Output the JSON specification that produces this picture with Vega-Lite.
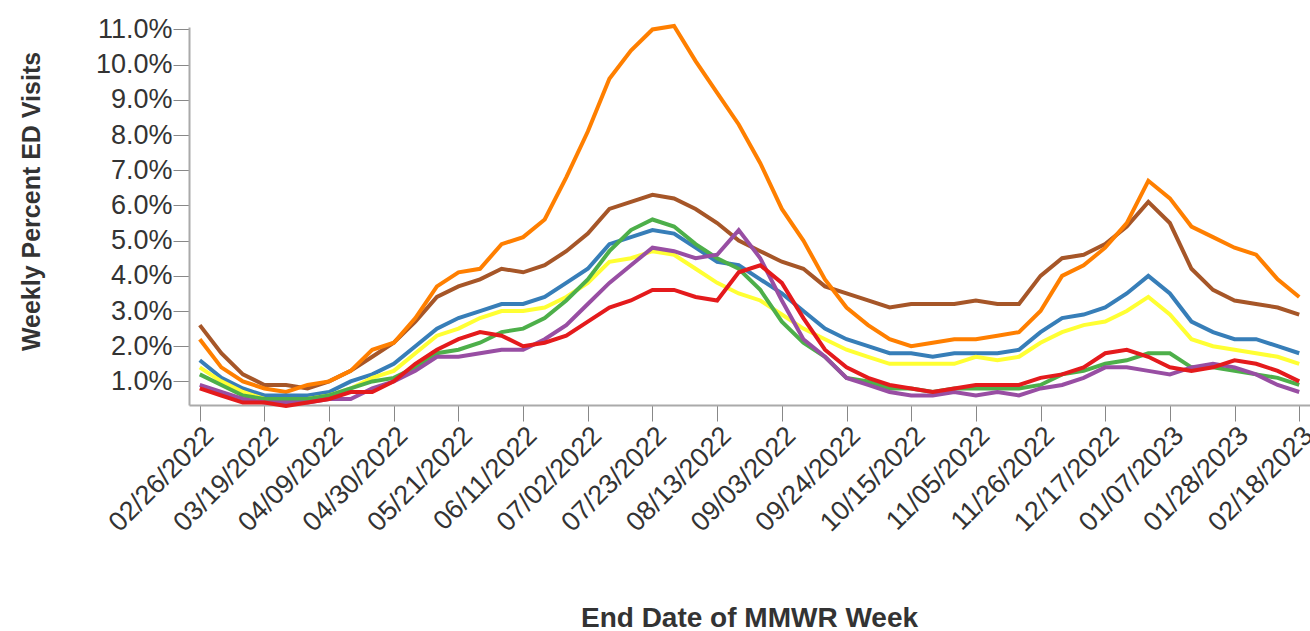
{
  "$schema": "https://vega.github.io/schema/vega-lite/v6.json",
  "autosize": {"type": "none"},
  "padding": {"left": 189, "top": 27, "right": 0, "bottom": 226},
  "width": 1121,
  "height": 378,
  "background": "white",
  "config": {"view": {"stroke": null}, "font": "Liberation Sans"},
  "data": {
    "values": [
      {"date": "2022-02-26", "brown": 2.6, "orange": 2.2, "blue": 1.6, "yellow": 1.4, "green": 1.2, "purple": 0.9, "red": 0.8},
      {"date": "2022-03-05", "brown": 1.8, "orange": 1.4, "blue": 1.1, "yellow": 1.0, "green": 0.9, "purple": 0.7, "red": 0.6},
      {"date": "2022-03-12", "brown": 1.2, "orange": 1.0, "blue": 0.8, "yellow": 0.7, "green": 0.6, "purple": 0.5, "red": 0.4},
      {"date": "2022-03-19", "brown": 0.9, "orange": 0.8, "blue": 0.6, "yellow": 0.5, "green": 0.5, "purple": 0.4, "red": 0.4},
      {"date": "2022-03-26", "brown": 0.9, "orange": 0.7, "blue": 0.6, "yellow": 0.5, "green": 0.5, "purple": 0.4, "red": 0.3},
      {"date": "2022-04-02", "brown": 0.8, "orange": 0.9, "blue": 0.6, "yellow": 0.5, "green": 0.5, "purple": 0.4, "red": 0.4},
      {"date": "2022-04-09", "brown": 1.0, "orange": 1.0, "blue": 0.7, "yellow": 0.6, "green": 0.6, "purple": 0.5, "red": 0.5},
      {"date": "2022-04-16", "brown": 1.3, "orange": 1.3, "blue": 1.0, "yellow": 0.8, "green": 0.8, "purple": 0.5, "red": 0.7},
      {"date": "2022-04-23", "brown": 1.7, "orange": 1.9, "blue": 1.2, "yellow": 1.1, "green": 1.0, "purple": 0.8, "red": 0.7},
      {"date": "2022-04-30", "brown": 2.1, "orange": 2.1, "blue": 1.5, "yellow": 1.3, "green": 1.1, "purple": 1.0, "red": 1.0},
      {"date": "2022-05-07", "brown": 2.7, "orange": 2.8, "blue": 2.0, "yellow": 1.8, "green": 1.4, "purple": 1.3, "red": 1.5},
      {"date": "2022-05-14", "brown": 3.4, "orange": 3.7, "blue": 2.5, "yellow": 2.3, "green": 1.8, "purple": 1.7, "red": 1.9},
      {"date": "2022-05-21", "brown": 3.7, "orange": 4.1, "blue": 2.8, "yellow": 2.5, "green": 1.9, "purple": 1.7, "red": 2.2},
      {"date": "2022-05-28", "brown": 3.9, "orange": 4.2, "blue": 3.0, "yellow": 2.8, "green": 2.1, "purple": 1.8, "red": 2.4},
      {"date": "2022-06-04", "brown": 4.2, "orange": 4.9, "blue": 3.2, "yellow": 3.0, "green": 2.4, "purple": 1.9, "red": 2.3},
      {"date": "2022-06-11", "brown": 4.1, "orange": 5.1, "blue": 3.2, "yellow": 3.0, "green": 2.5, "purple": 1.9, "red": 2.0},
      {"date": "2022-06-18", "brown": 4.3, "orange": 5.6, "blue": 3.4, "yellow": 3.1, "green": 2.8, "purple": 2.2, "red": 2.1},
      {"date": "2022-06-25", "brown": 4.7, "orange": 6.8, "blue": 3.8, "yellow": 3.4, "green": 3.3, "purple": 2.6, "red": 2.3},
      {"date": "2022-07-02", "brown": 5.2, "orange": 8.1, "blue": 4.2, "yellow": 3.8, "green": 3.9, "purple": 3.2, "red": 2.7},
      {"date": "2022-07-09", "brown": 5.9, "orange": 9.6, "blue": 4.9, "yellow": 4.4, "green": 4.7, "purple": 3.8, "red": 3.1},
      {"date": "2022-07-16", "brown": 6.1, "orange": 10.4, "blue": 5.1, "yellow": 4.5, "green": 5.3, "purple": 4.3, "red": 3.3},
      {"date": "2022-07-23", "brown": 6.3, "orange": 11.0, "blue": 5.3, "yellow": 4.7, "green": 5.6, "purple": 4.8, "red": 3.6},
      {"date": "2022-07-30", "brown": 6.2, "orange": 11.1, "blue": 5.2, "yellow": 4.6, "green": 5.4, "purple": 4.7, "red": 3.6},
      {"date": "2022-08-06", "brown": 5.9, "orange": 10.1, "blue": 4.8, "yellow": 4.2, "green": 4.9, "purple": 4.5, "red": 3.4},
      {"date": "2022-08-13", "brown": 5.5, "orange": 9.2, "blue": 4.4, "yellow": 3.8, "green": 4.5, "purple": 4.6, "red": 3.3},
      {"date": "2022-08-20", "brown": 5.0, "orange": 8.3, "blue": 4.3, "yellow": 3.5, "green": 4.2, "purple": 5.3, "red": 4.1},
      {"date": "2022-08-27", "brown": 4.7, "orange": 7.2, "blue": 3.9, "yellow": 3.3, "green": 3.6, "purple": 4.5, "red": 4.3},
      {"date": "2022-09-03", "brown": 4.4, "orange": 5.9, "blue": 3.5, "yellow": 2.9, "green": 2.7, "purple": 3.3, "red": 3.8},
      {"date": "2022-09-10", "brown": 4.2, "orange": 5.0, "blue": 3.0, "yellow": 2.5, "green": 2.1, "purple": 2.2, "red": 2.8},
      {"date": "2022-09-17", "brown": 3.7, "orange": 3.9, "blue": 2.5, "yellow": 2.2, "green": 1.7, "purple": 1.7, "red": 1.9},
      {"date": "2022-09-24", "brown": 3.5, "orange": 3.1, "blue": 2.2, "yellow": 1.9, "green": 1.1, "purple": 1.1, "red": 1.4},
      {"date": "2022-10-01", "brown": 3.3, "orange": 2.6, "blue": 2.0, "yellow": 1.7, "green": 1.0, "purple": 0.9, "red": 1.1},
      {"date": "2022-10-08", "brown": 3.1, "orange": 2.2, "blue": 1.8, "yellow": 1.5, "green": 0.8, "purple": 0.7, "red": 0.9},
      {"date": "2022-10-15", "brown": 3.2, "orange": 2.0, "blue": 1.8, "yellow": 1.5, "green": 0.8, "purple": 0.6, "red": 0.8},
      {"date": "2022-10-22", "brown": 3.2, "orange": 2.1, "blue": 1.7, "yellow": 1.5, "green": 0.7, "purple": 0.6, "red": 0.7},
      {"date": "2022-10-29", "brown": 3.2, "orange": 2.2, "blue": 1.8, "yellow": 1.5, "green": 0.8, "purple": 0.7, "red": 0.8},
      {"date": "2022-11-05", "brown": 3.3, "orange": 2.2, "blue": 1.8, "yellow": 1.7, "green": 0.8, "purple": 0.6, "red": 0.9},
      {"date": "2022-11-12", "brown": 3.2, "orange": 2.3, "blue": 1.8, "yellow": 1.6, "green": 0.8, "purple": 0.7, "red": 0.9},
      {"date": "2022-11-19", "brown": 3.2, "orange": 2.4, "blue": 1.9, "yellow": 1.7, "green": 0.8, "purple": 0.6, "red": 0.9},
      {"date": "2022-11-26", "brown": 4.0, "orange": 3.0, "blue": 2.4, "yellow": 2.1, "green": 0.9, "purple": 0.8, "red": 1.1},
      {"date": "2022-12-03", "brown": 4.5, "orange": 4.0, "blue": 2.8, "yellow": 2.4, "green": 1.2, "purple": 0.9, "red": 1.2},
      {"date": "2022-12-10", "brown": 4.6, "orange": 4.3, "blue": 2.9, "yellow": 2.6, "green": 1.3, "purple": 1.1, "red": 1.4},
      {"date": "2022-12-17", "brown": 4.9, "orange": 4.8, "blue": 3.1, "yellow": 2.7, "green": 1.5, "purple": 1.4, "red": 1.8},
      {"date": "2022-12-24", "brown": 5.4, "orange": 5.5, "blue": 3.5, "yellow": 3.0, "green": 1.6, "purple": 1.4, "red": 1.9},
      {"date": "2022-12-31", "brown": 6.1, "orange": 6.7, "blue": 4.0, "yellow": 3.4, "green": 1.8, "purple": 1.3, "red": 1.7},
      {"date": "2023-01-07", "brown": 5.5, "orange": 6.2, "blue": 3.5, "yellow": 2.9, "green": 1.8, "purple": 1.2, "red": 1.4},
      {"date": "2023-01-14", "brown": 4.2, "orange": 5.4, "blue": 2.7, "yellow": 2.2, "green": 1.4, "purple": 1.4, "red": 1.3},
      {"date": "2023-01-21", "brown": 3.6, "orange": 5.1, "blue": 2.4, "yellow": 2.0, "green": 1.4, "purple": 1.5, "red": 1.4},
      {"date": "2023-01-28", "brown": 3.3, "orange": 4.8, "blue": 2.2, "yellow": 1.9, "green": 1.3, "purple": 1.4, "red": 1.6},
      {"date": "2023-02-04", "brown": 3.2, "orange": 4.6, "blue": 2.2, "yellow": 1.8, "green": 1.2, "purple": 1.2, "red": 1.5},
      {"date": "2023-02-11", "brown": 3.1, "orange": 3.9, "blue": 2.0, "yellow": 1.7, "green": 1.1, "purple": 0.9, "red": 1.3},
      {"date": "2023-02-18", "brown": 2.9, "orange": 3.4, "blue": 1.8, "yellow": 1.5, "green": 0.9, "purple": 0.7, "red": 1.0}
    ]
  },
  "transform": [
    {"fold": ["brown", "orange", "blue", "yellow", "green", "purple", "red"], "as": ["group", "value"]}
  ],
  "mark": {"type": "line", "strokeWidth": 4, "strokeJoin": "miter", "clip": false},
  "encoding": {
    "x": {
      "field": "date",
      "type": "ordinal",
      "scale": {"type": "point", "padding": 0.5},
      "axis": {
        "values": ["2022-02-26", "2022-03-19", "2022-04-09", "2022-04-30", "2022-05-21", "2022-06-11", "2022-07-02", "2022-07-23", "2022-08-13", "2022-09-03", "2022-09-24", "2022-10-15", "2022-11-05", "2022-11-26", "2022-12-17", "2023-01-07", "2023-01-28", "2023-02-18"],
        "labelExpr": "slice(datum.value,5,7)+'/'+slice(datum.value,8,10)+'/'+slice(datum.value,0,4)",
        "labelAngle": -45,
        "labelAlign": "right",
        "labelBaseline": "top",
        "labelFontSize": 27,
        "labelColor": "#333333",
        "labelPadding": 1,
        "labelOverlap": false,
        "labelBound": false,
        "tickSize": 16,
        "tickColor": "#888888",
        "tickWidth": 1,
        "domainColor": "#aaaaaa",
        "domainWidth": 2,
        "grid": false,
        "title": "End Date of MMWR Week",
        "titleFontSize": 28,
        "titleFontWeight": "bold",
        "titleColor": "#333333",
        "titleX": 560,
        "titleY": 221,
        "titleAlign": "center",
        "titleBaseline": "alphabetic"
      }
    },
    "y": {
      "field": "value",
      "type": "quantitative",
      "scale": {"domain": [0.33, 11.07], "nice": false, "zero": false},
      "axis": {
        "values": [1, 2, 3, 4, 5, 6, 7, 8, 9, 10, 11],
        "labelExpr": "format(datum.value, '.1f') + '%'",
        "labelFontSize": 27,
        "labelColor": "#333333",
        "labelPadding": 1,
        "labelBaseline": "middle",
        "tickSize": 16,
        "tickColor": "#888888",
        "tickWidth": 1,
        "domainColor": "#aaaaaa",
        "domainWidth": 2,
        "grid": false,
        "title": "Weekly Percent ED Visits",
        "titleFontSize": 25,
        "titleFontWeight": "bold",
        "titleColor": "#333333",
        "titleAngle": -90,
        "titleX": -158,
        "titleY": 174,
        "titleAlign": "center",
        "titleBaseline": "middle"
      }
    },
    "color": {
      "field": "group",
      "type": "nominal",
      "scale": {
        "domain": ["brown", "orange", "blue", "yellow", "green", "purple", "red"],
        "range": ["#a65628", "#ff7f00", "#377eb8", "#ffff33", "#4daf4a", "#984ea3", "#e41a1c"]
      },
      "legend": null
    }
  }
}
